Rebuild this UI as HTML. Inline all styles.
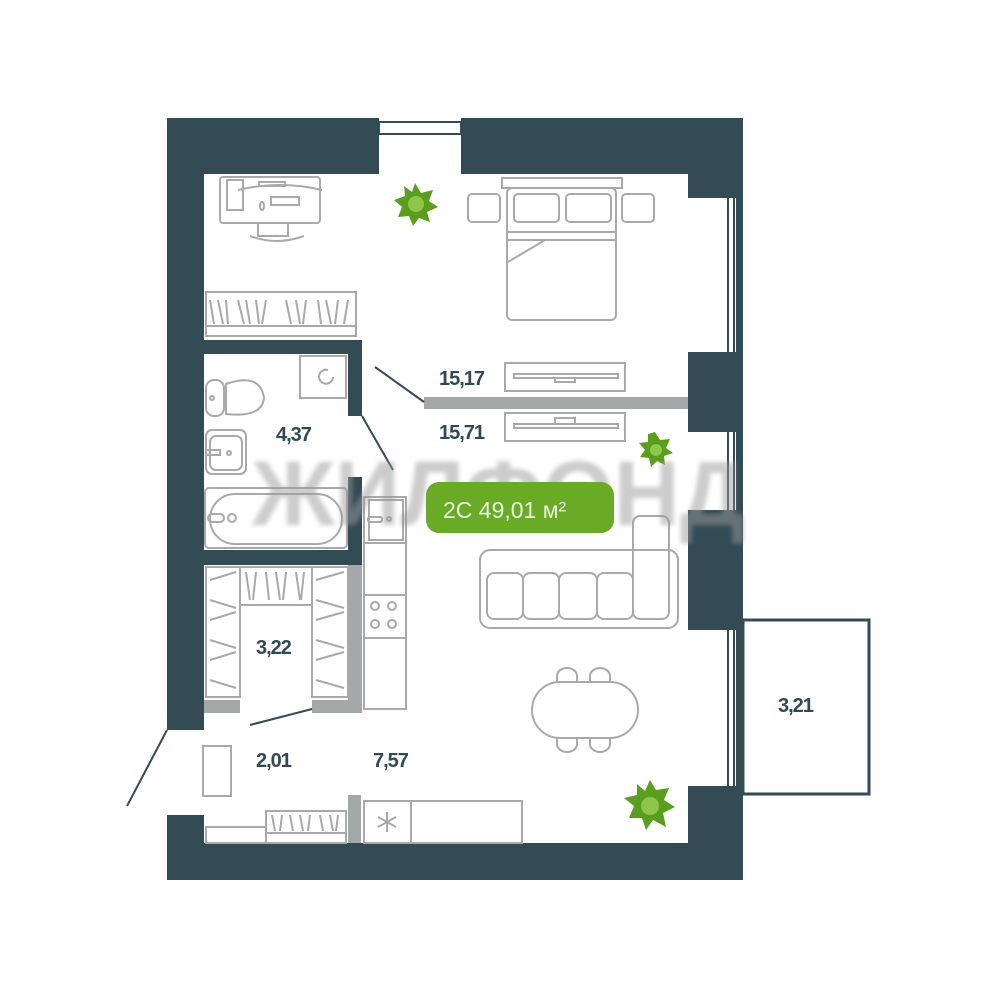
<!DOCTYPE html>
<html><head><meta charset="utf-8"><style>
html,body{margin:0;padding:0;background:#fff;width:1000px;height:1000px;overflow:hidden}
svg{display:block}
.f{fill:none;stroke:#a9a9a9;stroke-width:2}
.t{font-family:"Liberation Sans",sans-serif;font-weight:bold;fill:#2f4a54;font-size:20px;letter-spacing:-1px}
</style></head><body>
<svg width="1000" height="1000" viewBox="0 0 1000 1000" xmlns="http://www.w3.org/2000/svg">
<defs><filter id="bl"><feGaussianBlur stdDeviation="2.5"/></filter></defs>
<rect x="167" y="118" width="576" height="762" fill="#334b55"/>
<rect x="204" y="174" width="484" height="669" fill="#fff"/>
<rect x="160" y="730" width="45" height="85" fill="#fff"/>
<rect x="379" y="118" width="82" height="56" fill="#fff"/>
<rect x="379" y="122" width="82" height="12" fill="none" stroke="#334b55" stroke-width="2"/>
<g fill="#fff"><rect x="688" y="198" width="48" height="154"/><rect x="688" y="432" width="48" height="78"/><rect x="688" y="630" width="48" height="156"/></g>
<g fill="none" stroke="#334b55" stroke-width="2">
<line x1="728" y1="198" x2="728" y2="352"/><line x1="734" y1="198" x2="734" y2="352"/>
<line x1="728" y1="432" x2="728" y2="510"/><line x1="734" y1="432" x2="734" y2="510"/>
<line x1="728" y1="630" x2="728" y2="786"/><line x1="734" y1="630" x2="734" y2="786"/>
</g>
<rect x="743" y="620" width="126" height="174" fill="#fff" stroke="#334b55" stroke-width="3"/>
<rect x="204" y="340" width="158" height="14" fill="#334b55"/>
<rect x="348" y="340" width="14" height="76" fill="#334b55"/>
<rect x="348" y="477" width="14" height="88" fill="#334b55"/>
<rect x="204" y="550" width="158" height="15" fill="#334b55"/>
<rect x="424" y="397" width="264" height="12" fill="#a5a8a8"/>
<rect x="348" y="565" width="14" height="148" fill="#a5a8a8"/>
<rect x="204" y="700" width="36" height="13" fill="#a5a8a8"/>
<rect x="312" y="700" width="50" height="13" fill="#a5a8a8"/>
<rect x="348" y="795" width="13" height="48" fill="#a5a8a8"/>
<g stroke="#334b55" stroke-width="2"><line x1="375" y1="367" x2="424" y2="402"/><line x1="362" y1="416" x2="393" y2="470"/><line x1="250" y1="725" x2="312" y2="709"/><line x1="167" y1="730" x2="127" y2="806"/></g>
<g class="f">
<rect x="220" y="177" width="100" height="46" rx="3"/><rect x="227" y="180" width="16" height="30"/><rect x="271" y="197" width="28" height="8"/><ellipse cx="262" cy="206" rx="2" ry="4"/>
<path d="M238 190 Q280 180 322 190"/><rect x="259" y="182" width="26" height="4"/>
<path d="M258 224 v12 h30 v-12 M250 236 Q277 246 304 236"/>
<rect x="206" y="292" width="150" height="44"/><line x1="206" y1="326" x2="356" y2="326"/>
<path d="M210 300 l4 24 M218 300 l5 24 M226 300 l2 24 M238 300 l6 24 M246 300 l4 24 M256 300 l3 24 M266 300 l-4 24 M286 300 l5 24 M296 300 l4 24 M306 300 l-3 24 M318 300 l3 24 M326 300 l5 24 M338 300 l-3 24 M348 300 l-4 24"/>
<rect x="502" y="178" width="120" height="10"/><rect x="507" y="188" width="109" height="132" rx="5"/>
<line x1="507" y1="232" x2="616" y2="232"/><line x1="507" y1="240" x2="616" y2="240"/><path d="M508 262 L545 240"/>
<rect x="468" y="194" width="32" height="28" rx="4"/><rect x="514" y="194" width="45" height="28" rx="4"/><rect x="566" y="194" width="45" height="28" rx="4"/><rect x="622" y="194" width="32" height="28" rx="4"/>
<rect x="505" y="363" width="120" height="28"/><rect x="514" y="374" width="104" height="4"/><rect x="555" y="378" width="20" height="4"/>
<rect x="505" y="413" width="120" height="28"/><rect x="514" y="424" width="104" height="4"/><rect x="555" y="418" width="20" height="6"/>
<rect x="300" y="356" width="46" height="42"/><path d="M333 377 a7 7 0 1 1 -5 -7"/>
<rect x="206" y="380" width="18" height="36" rx="8"/><path d="M226 384 Q260 372 264 398 Q262 418 226 414 Z"/><circle cx="212" cy="398" r="2"/>
<rect x="206" y="430" width="40" height="44" rx="6"/><rect x="210" y="436" width="32" height="34" rx="6"/><rect x="206" y="450" width="14" height="5"/><circle cx="229" cy="453" r="2"/>
<rect x="205" y="488" width="142" height="60" rx="4"/><rect x="210" y="494" width="132" height="50" rx="25"/><rect x="208" y="514" width="16" height="8" rx="4"/><circle cx="232" cy="518" r="4"/>
<rect x="206" y="567" width="34" height="130"/><rect x="312" y="567" width="36" height="130"/><rect x="240" y="567" width="72" height="38"/>
<path d="M210 580 l26 -8 M210 600 l26 8 M210 620 l26 -8 M210 640 l26 8 M210 660 l26 -8 M210 680 l26 8 M316 580 l28 -8 M316 600 l28 8 M316 620 l28 -8 M316 640 l28 8 M316 660 l28 -8 M316 680 l28 8"/>
<path d="M246 572 l4 28 M256 572 l-3 28 M266 572 l3 28 M276 572 l4 28 M286 572 l-3 28 M296 572 l4 28 M304 572 l-3 28"/>
<rect x="364" y="497" width="42" height="212"/><rect x="369" y="500" width="34" height="40"/><rect x="368" y="517" width="14" height="5" rx="2"/><circle cx="389" cy="519" r="2"/>
<line x1="364" y1="543" x2="406" y2="543"/><line x1="364" y1="595" x2="406" y2="595"/><line x1="364" y1="638" x2="406" y2="638"/>
<circle cx="375" cy="606" r="4"/><circle cx="392" cy="606" r="4"/><circle cx="375" cy="624" r="4"/><circle cx="392" cy="624" r="4"/>
<rect x="480" y="550" width="198" height="78" rx="10"/>
<rect x="487" y="573" width="36" height="46" rx="7"/><rect x="523" y="573" width="36" height="46" rx="7"/><rect x="559" y="573" width="38" height="46" rx="7"/><rect x="597" y="573" width="36" height="46" rx="7"/><rect x="633" y="516" width="36" height="103" rx="7"/>
<rect x="532" y="682" width="106" height="56" rx="28"/>
<path d="M557 682 v-6 a10 8 0 0 1 20 0 v6 M590 682 v-6 a10 8 0 0 1 20 0 v6 M557 738 v6 a10 8 0 0 0 20 0 v-6 M590 738 v6 a10 8 0 0 0 20 0 v-6"/>
<rect x="203" y="746" width="28" height="50"/>
<rect x="206" y="827" width="60" height="16"/><rect x="266" y="811" width="80" height="32"/><line x1="266" y1="833" x2="346" y2="833"/>
<path d="M272 815 l3 16 M282 815 l-2 16 M290 815 l3 16 M300 815 l3 16 M310 815 l-2 16 M320 815 l3 16 M330 815 l3 16 M338 815 l-2 16"/>
<rect x="364" y="801" width="158" height="42"/><line x1="411" y1="801" x2="411" y2="843"/>
<path d="M387 812 v20 M378 817 l18 10 M378 827 l18 -10"/>
</g>
<g fill="#5a9e1e">
<polygon points="415,183 421,193 433,190 429,201 438,207 427,212 430,222 419,218 413,226 409,216 398,217 402,207 394,200 405,196 404,186 412,192"/>
<polygon points="655,432 660,440 670,439 666,448 673,453 664,456 665,465 657,461 651,467 649,458 640,457 645,450 639,443 648,442 648,434"/>
<polygon points="650,780 656,790 669,788 664,800 675,807 663,813 666,827 653,820 646,830 642,818 629,818 634,806 624,798 637,795 637,784 645,791"/>
</g>
<g fill="#8fc549"><circle cx="416" cy="204" r="8"/><circle cx="656" cy="450" r="6"/><circle cx="650" cy="806" r="9"/></g>
<text x="252" y="525" font-family="Liberation Sans,sans-serif" font-weight="bold" font-size="92" fill="#9a9a9a" opacity="0.5" filter="url(#bl)" textLength="493" lengthAdjust="spacingAndGlyphs">ЖИЛФОНД</text>
<rect x="426" y="482" width="188" height="51" rx="13" fill="#6aab26"/>
<text x="443" y="518" font-family="Liberation Sans,sans-serif" font-size="23" fill="#e8f0e0">2С  49,01 м²</text>
<g class="t">
<text x="439" y="385">15,17</text><text x="439" y="439">15,71</text>
<text x="276" y="441">4,37</text><text x="256" y="654">3,22</text>
<text x="256" y="767">2,01</text><text x="373" y="767">7,57</text>
<text x="778" y="712">3,21</text>
</g>
</svg>
</body></html>
